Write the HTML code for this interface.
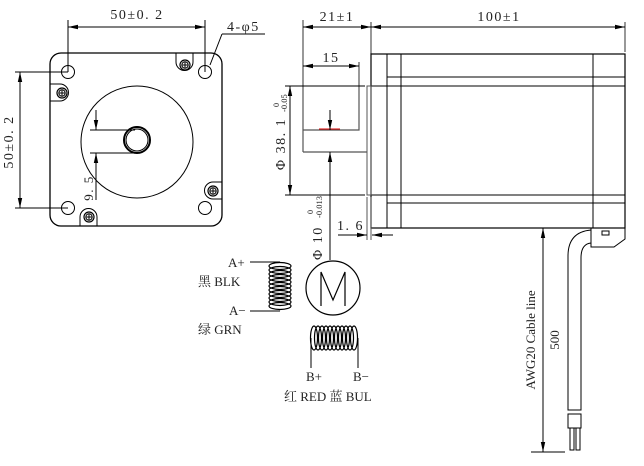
<!DOCTYPE html>
<html><head><meta charset="utf-8"><style>
html,body{margin:0;padding:0;background:#fff;}
svg{display:block;}
text{font-family:"Liberation Serif","Noto Serif CJK SC",serif;fill:#222;}
.d{letter-spacing:1.5px;font-size:14px;}
</style></head><body>
<svg width="644" height="466" viewBox="0 0 644 466" xmlns="http://www.w3.org/2000/svg">
<defs>
<marker id="a" viewBox="0 0 10 6" refX="10" refY="3" markerWidth="10" markerHeight="6" orient="auto-start-reverse" markerUnits="userSpaceOnUse"><path d="M0,0.8 L10,3 L0,5.2z" fill="#000"/></marker>
<g id="scr"><circle r="5" fill="none" stroke="#000" stroke-width="1.2"/><circle r="3.2" fill="none" stroke="#000" stroke-width="1"/><path d="M-3.2,0H3.2M0,-3.2V3.2" stroke="#000" stroke-width="1"/></g>
</defs>
<g fill="none" stroke="#000" stroke-width="1">
<rect x="50" y="53" width="172" height="173" rx="11" stroke-width="1.3"/>
<circle cx="68" cy="72" r="6.5"/><circle cx="205" cy="72" r="6.5"/>
<circle cx="68" cy="208" r="6.5"/><circle cx="205" cy="208" r="6.5"/>
<circle cx="137" cy="142" r="56"/>
<circle cx="137" cy="140" r="13" stroke-width="2"/>
<circle cx="137" cy="140" r="11"/>
<path d="M50,84 H60 a8,8 0 0 1 0,17 H50"/>
<path d="M176,53 V62 a8,8 0 0 0 17,0 V53"/>
<path d="M222,182 H213 a8,8 0 0 0 0,17 H222"/>
<path d="M80,226 V217 a8,8 0 0 1 17,0 V226"/>
<path d="M68,20 V72 M205,20 V72 M15,72 H68 M15,208 H68"/>
<path d="M68,27 H205" marker-start="url(#a)" marker-end="url(#a)"/>
<path d="M20,72 V208" marker-start="url(#a)" marker-end="url(#a)"/>
<path d="M90,130 H135 M90,153 H135"/>
<path d="M96,110 V130" marker-end="url(#a)"/><path d="M96,200 V153" marker-end="url(#a)"/>
<path d="M222,34 H265 M222,34 L210,65"/>
<path d="M303,20 V152 M371,22 V54 M625,22 V52" stroke="#555" stroke-width="1.2"/>
<path d="M303,27 H371" marker-start="url(#a)" marker-end="url(#a)"/>
<path d="M371,27 H625" marker-start="url(#a)" marker-end="url(#a)"/>
<rect x="371" y="54" width="254" height="174" stroke-width="1.2"/>
<path d="M387,54 V228 M401,54 V228 M593,54 V228 M387,77 H625 M387,86 H625 M387,195 H625 M387,203 H625"/>
<path d="M371,86 H387 M371,195 H387" />
<rect x="367" y="86" width="4" height="109" stroke="#555"/>
<path d="M303,152 H367 M303,130 H359 V62" stroke="#555" stroke-width="1.2"/>
<path d="M319,129 H340" stroke="#d00" stroke-width="1"/>
<path d="M303,66 H359" marker-start="url(#a)" marker-end="url(#a)"/>
<path d="M285,86 H365 M285,195 H365"/>
<path d="M290,86 V195" marker-start="url(#a)" marker-end="url(#a)"/>
<path d="M330,110 V130" marker-end="url(#a)"/>
<path d="M330,260 V152" marker-end="url(#a)"/>
<path d="M367,197 V240 M371,197 V240" stroke="#555"/>
<path d="M338,235 H367" marker-end="url(#a)"/><path d="M393,235 H372" marker-end="url(#a)"/>
<path d="M591,228 V247 H614 L625,239 V228"/>
<rect x="602" y="231" width="7" height="4"/>
<path d="M591,230 Q568,232 568,256 V410 H581 V258 Q581,244 591,243"/>
<rect x="568" y="414" width="13" height="14"/>
<path d="M570,428 V450 H574 V428 M576,428 V450 H580 V428"/>
<path d="M543,228 V452" marker-start="url(#a)" marker-end="url(#a)"/>
<path d="M531,452 H565"/>
<path d="M250,262 H280 M250,311 H280"/>
<g stroke-width="1.2">
<ellipse cx="280" cy="266" rx="11" ry="3.5"/><ellipse cx="280" cy="270" rx="11" ry="3.5"/>
<ellipse cx="280" cy="274" rx="11" ry="3.5"/><ellipse cx="280" cy="278" rx="11" ry="3.5"/>
<ellipse cx="280" cy="282" rx="11" ry="3.5"/><ellipse cx="280" cy="286" rx="11" ry="3.5"/>
<ellipse cx="280" cy="290" rx="11" ry="3.5"/><ellipse cx="280" cy="294" rx="11" ry="3.5"/>
<ellipse cx="280" cy="298" rx="11" ry="3.5"/><ellipse cx="280" cy="302" rx="11" ry="3.5"/>
<ellipse cx="280" cy="306" rx="11" ry="3.5"/>
</g>
<circle cx="333" cy="288" r="27" stroke-width="1.2"/>
<path d="M321,306 V272 L333,300 L345,272 V306" stroke-width="1.2"/>
<g stroke-width="1.2">
<ellipse cx="314" cy="338" rx="3.5" ry="12"/><ellipse cx="318" cy="338" rx="3.5" ry="12"/>
<ellipse cx="322" cy="338" rx="3.5" ry="12"/><ellipse cx="326" cy="338" rx="3.5" ry="12"/>
<ellipse cx="330" cy="338" rx="3.5" ry="12"/><ellipse cx="334" cy="338" rx="3.5" ry="12"/>
<ellipse cx="338" cy="338" rx="3.5" ry="12"/><ellipse cx="342" cy="338" rx="3.5" ry="12"/>
<ellipse cx="346" cy="338" rx="3.5" ry="12"/><ellipse cx="350" cy="338" rx="3.5" ry="12"/>
<ellipse cx="354" cy="338" rx="3.5" ry="12"/>
</g>
<path d="M311,338 V368 M358,338 V368"/>
</g>
<g fill="#000">
<use href="#scr" x="62" y="93"/><use href="#scr" x="185" y="65"/>
<use href="#scr" x="213" y="191"/><use href="#scr" x="89" y="217"/>
</g>
<g font-size="13">
<text class="d" x="137" y="19" text-anchor="middle">50±0. 2</text>
<text class="d" transform="translate(13,142) rotate(-90)" text-anchor="middle">50±0. 2</text>
<text class="d" transform="translate(93,188) rotate(-90)" text-anchor="middle" style="font-size:13px">9. 5</text>
<text class="d" x="227" y="31">4-φ5</text>
<text class="d" x="337" y="21" text-anchor="middle">21±1</text>
<text class="d" x="499" y="21" text-anchor="middle">100±1</text>
<text class="d" x="331" y="62" text-anchor="middle">15</text>
<text class="d" transform="translate(285,144) rotate(-90)" text-anchor="middle">Φ 38. 1</text>
<text transform="translate(279,107) rotate(-90)" font-size="8">0</text>
<text transform="translate(287,112) rotate(-90)" font-size="8.5">-0.05</text>
<text class="d" transform="translate(322,260) rotate(-90)">Φ 10</text>
<text transform="translate(313,214) rotate(-90)" font-size="8">0</text>
<text transform="translate(322,218) rotate(-90)" font-size="8.5">-0.013</text>
<text class="d" x="337" y="230">1. 6</text>
<text transform="translate(535,340) rotate(-90)" text-anchor="middle" font-size="13" font-family="Liberation Mono,monospace">AWG20 Cable line</text>
<text transform="translate(559,340) rotate(-90)" text-anchor="middle" font-size="13">500</text>
<text x="228" y="267" font-size="13">A+</text>
<text x="198" y="286" font-size="13">黑 BLK</text>
<text x="229" y="315" font-size="13">A−</text>
<text x="198" y="334" font-size="13">绿 GRN</text>
<text x="306" y="381" font-size="13">B+</text>
<text x="353" y="381" font-size="13">B−</text>
<text x="284" y="401" font-size="13">红 RED 蓝 BUL</text>
</g>
</svg>
</body></html>
